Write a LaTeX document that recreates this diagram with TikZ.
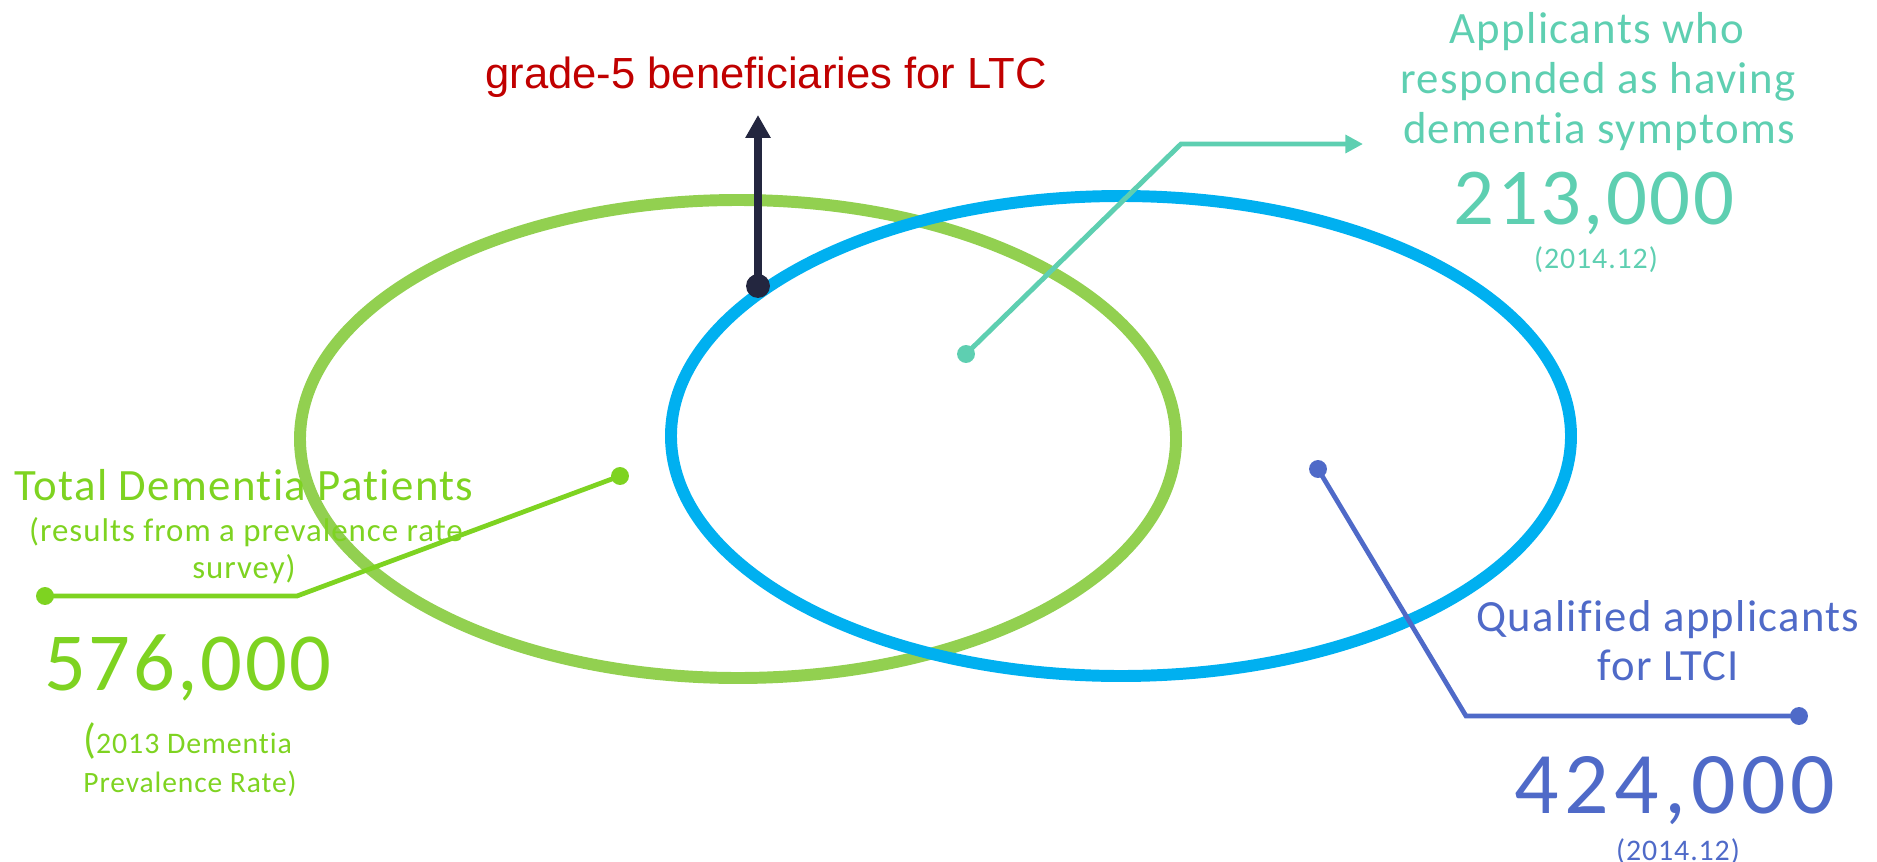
\documentclass[tikz,border=0pt]{standalone}
\usepackage{fontspec}
\usetikzlibrary{arrows.meta}

\setmainfont[Ligatures=NoCommon]{Carlito}
\newfontfamily\callfont[LetterSpace=3,Ligatures=NoCommon]{Carlito}
\newfontfamily\widefont[LetterSpace=6,Ligatures=NoCommon]{Carlito}
\newfontfamily\titlefont{Liberation Sans}

\definecolor{ringgreen}{HTML}{92D050}
\definecolor{ringblue}{HTML}{00B0F0}
\definecolor{limegreen}{HTML}{7ED321}
\definecolor{mint}{HTML}{5ECFB1}
\definecolor{slate}{HTML}{4F6AC8}
\definecolor{navy}{HTML}{23263F}
\definecolor{darkred}{HTML}{C00000}

\tikzstyle{ring}=[line width=6.8pt]
\tikzstyle{dot}=[circle,fill,inner sep=0pt,minimum size=10.2pt]
\tikzstyle{txt}=[inner sep=0pt,anchor=base]
\tikzstyle{lead}=[line width=2.7pt]

\begin{document}
\begin{tikzpicture}[x=0.02cm,y=-0.02cm]
          \useasboundingbox (0,0) rectangle (1877,862);

          % the two overlapping groups
          \draw[ring,ringgreen] (738,439) ellipse [x radius=438, y radius=239];
          \draw[ring,ringblue] (1121,436) ellipse [x radius=450, y radius=240];

          % left label: all patients
          \node[txt,limegreen,font=\callfont\fontsize{25.5}{30}\selectfont] (totl1) at (244,500) {Total Dementia Patients};
          \node[txt,limegreen,font=\callfont\fontsize{18.7}{22}\selectfont] (totl2) at (246,541) {(results from a prevalence rate};
          \node[txt,limegreen,font=\callfont\fontsize{18.7}{22}\selectfont] (totl3) at (244,578) {survey)};
          \node[txt,limegreen,font=\callfont\fontsize{47}{52}\selectfont] (totnum) at (188,690) {576,000};
          \node[txt,limegreen,anchor=base west,font=\callfont\fontsize{17}{20}\selectfont] (totsrc1) at (83,753)
            {{\fontsize{24}{28}\selectfont(}2013 Dementia};
          \node[txt,limegreen,font=\callfont\fontsize{16.8}{20}\selectfont] (totsrc2) at (190,792) {Prevalence Rate)};

          % top right label: symptoms
          \node[txt,mint,font=\callfont\fontsize{25.5}{30}\selectfont] (syml1) at (1597,43) {Applicants who};
          \node[txt,mint,font=\callfont\fontsize{25.5}{30}\selectfont] (syml2) at (1598,93) {responded as having};
          \node[txt,mint,font=\callfont\fontsize{25.5}{30}\selectfont] (syml3) at (1599,143) {dementia symptoms};
          \node[txt,mint,font=\callfont\fontsize{46}{50}\selectfont] (symnum) at (1594,224) {213,000};
          \node[txt,mint,font=\callfont\fontsize{17}{20}\selectfont] (symdate) at (1596,268) {(2014.12)};

          % bottom right label: qualified
          \node[txt,slate,font=\callfont\fontsize{25.4}{30}\selectfont] (quall1) at (1668,631) {Qualified applicants};
          \node[txt,slate,font=\callfont\fontsize{25.4}{30}\selectfont] (quall2) at (1668,680) {for LTCI};
          \node[txt,slate,font=\widefont\fontsize{50}{55}\selectfont] (qualnum) at (1675,813) {424,000};
          \node[txt,slate,font=\callfont\fontsize{17}{20}\selectfont] (qualdate) at (1678,860) {(2014.12)};

          % grade-5 arrow
          \node[dot,navy,minimum size=13.6pt] (g5) at (758,286) {};
          \coordinate (g5tip) at (758,115);
          \draw[navy,line width=4.5pt,-{Triangle[length=13pt,width=13.6pt]}] (g5.center) -- (g5tip);
          \node[txt,darkred,font=\titlefont\fontsize{24.8}{29}\selectfont] (g5lbl) at (766,88) {grade-5 beneficiaries for LTC};

          % leader lines
          \node[dot,limegreen] (tot) at (620,476) {};
          \node[dot,limegreen] (totend) at (45,596) {};
          \coordinate (totbend) at (297,596);
          \draw[lead,limegreen] (tot.center) -- (totbend) -- (totend.center);

          \node[dot,mint] (sym) at (966,354) {};
          \coordinate (symbend) at (1181,144);
          \coordinate (symend) at (1363,144);
          \draw[lead,mint,line width=2.8pt,-{Triangle[length=10pt,width=10pt]}] (sym.center) -- (symbend) -- (symend);

          \node[dot,slate] (qual) at (1318,469) {};
          \node[dot,slate] (qualend) at (1799,716) {};
          \coordinate (qualbend) at (1466,716);
          \draw[lead,slate] (qual.center) -- (qualbend) -- (qualend.center);
        \end{tikzpicture}
\end{document}
